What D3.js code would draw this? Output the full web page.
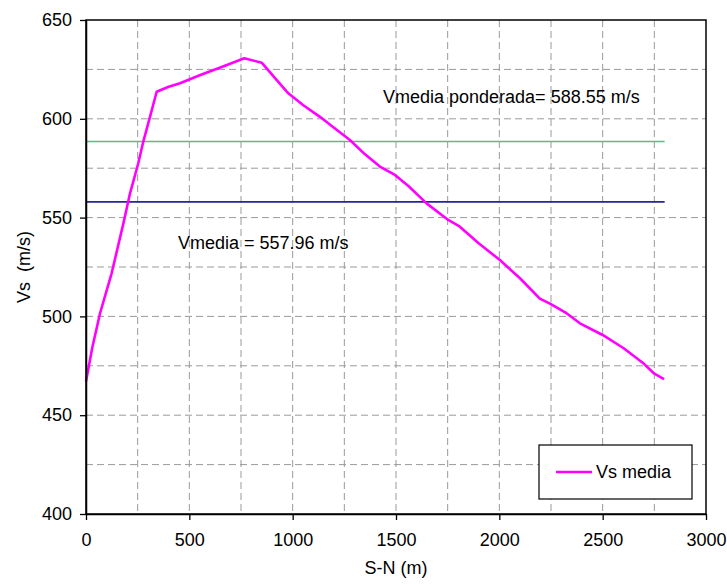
<!DOCTYPE html>
<html>
<head>
<meta charset="utf-8">
<script src="https://cdn.jsdelivr.net/npm/d3@7"></script>
<style>
  body { margin: 0; background: #fff; }
  svg { font-family: "Liberation Sans", Arial, sans-serif; }
</style>
</head>
<body>
<div id="chart"></div>
<script>
// distance along profile (m) and shear-wave velocity (m/s)
var distance = [0, 30, 68, 124, 181, 213, 253, 277, 310, 342, 400, 455, 550, 650, 766, 850, 920, 979, 1050, 1132, 1200, 1277, 1350, 1422, 1495, 1560, 1648, 1753, 1809, 1900, 2003, 2100, 2196, 2245, 2325, 2390, 2500, 2600, 2700, 2750, 2797];
var vs = [467.0, 484.0, 501.6, 521.8, 547.1, 562.3, 577.5, 588.4, 601.1, 613.7, 616.2, 618.0, 622.0, 626.0, 630.6, 628.4, 620.0, 612.9, 607.0, 601.0, 595.5, 589.3, 582.0, 575.8, 571.6, 566.0, 557.2, 548.8, 545.4, 537.0, 528.5, 519.3, 509.0, 506.5, 501.6, 496.5, 490.6, 484.0, 476.0, 471.0, 468.3];

var vMedia = 557.96,
    vPonderada = 588.55,
    lineEnd = 2800;

var xTicks = [0, 500, 1000, 1500, 2000, 2500, 3000];
var yTicks = [400, 450, 500, 550, 600, 650];

var margin = {top: 20, right: 21, bottom: 70, left: 86};
var width = 727 - margin.left - margin.right,
    height = 584 - margin.top - margin.bottom;

var svg = d3.select("#chart").append("svg")
    .attr("width", 727)
    .attr("height", 584)
  .append("g")
    .attr("transform", "translate(" + margin.left + "," + margin.top + ")");

var x = d3.scaleLinear().domain([0, 3000]).range([0, width]);
var y = d3.scaleLinear().domain([400, 650]).range([height, 0]);

// dashed grid every 250 m and 25 m/s
svg.append("g").selectAll("line")
    .data(d3.range(250, 3000, 250))
    .enter().append("line")
    .attr("x1", function(d) { return x(d); })
    .attr("x2", function(d) { return x(d); })
    .attr("y1", 0).attr("y2", height)
    .attr("stroke", "#9a9a9a")
    .attr("stroke-dasharray", "7,4");

svg.append("g").selectAll("line")
    .data(d3.range(425, 650, 25))
    .enter().append("line")
    .attr("y1", function(d) { return y(d); })
    .attr("y2", function(d) { return y(d); })
    .attr("x1", 0).attr("x2", width)
    .attr("stroke", "#9a9a9a")
    .attr("stroke-dasharray", "7,4");

// mean lines
svg.append("line")
    .attr("x1", x(0)).attr("x2", x(lineEnd))
    .attr("y1", y(vPonderada)).attr("y2", y(vPonderada))
    .attr("stroke", "#5dbb86").attr("stroke-width", 1.6);

svg.append("line")
    .attr("x1", x(0)).attr("x2", x(lineEnd))
    .attr("y1", y(vMedia)).attr("y2", y(vMedia))
    .attr("stroke", "#26269a").attr("stroke-width", 1.6);

// the velocity profile
var line = d3.line()
    .x(function(d, i) { return x(distance[i]); })
    .y(function(d) { return y(d); });

svg.append("path")
    .datum(vs)
    .attr("fill", "none")
    .attr("stroke", "#ff00ff")
    .attr("stroke-width", 2.6)
    .attr("stroke-linejoin", "round")
    .attr("d", line);

// frame
svg.append("rect")
    .attr("width", width).attr("height", height)
    .attr("fill", "none")
    .attr("stroke", "#000").attr("stroke-width", 1.5);

// axes
var xAxis = svg.append("g")
    .attr("transform", "translate(0," + height + ")")
    .call(d3.axisBottom(x).tickValues(xTicks).tickFormat(d3.format("d"))
        .tickSize(6).tickSizeOuter(0).tickPadding(13));
var yAxis = svg.append("g")
    .call(d3.axisLeft(y).tickValues(yTicks).tickFormat(d3.format("d"))
        .tickSize(6).tickSizeOuter(0).tickPadding(8));

[xAxis, yAxis].forEach(function(a) {
    a.select(".domain").attr("stroke", "#000").attr("stroke-width", 1.5);
    a.selectAll(".tick line").attr("stroke", "#000").attr("stroke-width", 1.3);
    a.selectAll(".tick text").attr("font-size", 18).attr("fill", "#000")
        .attr("font-family", "Liberation Sans, Arial, sans-serif");
});

// annotations
svg.append("text")
    .attr("x", 383 - margin.left)
    .attr("y", 103 - margin.top)
    .attr("font-size", 18)
    .text("Vmedia ponderada= " + vPonderada.toFixed(2) + " m/s");

svg.append("text")
    .attr("x", 178 - margin.left)
    .attr("y", 249 - margin.top)
    .attr("font-size", 18)
    .text("Vmedia = " + vMedia.toFixed(2) + " m/s");

// axis titles
svg.append("text")
    .attr("x", width / 2)
    .attr("y", height + 60)
    .attr("text-anchor", "middle")
    .attr("font-size", 18)
    .text("S-N (m)");

svg.append("text")
    .attr("transform", "translate(" + (30 - margin.left) + "," + (height / 2) + ") rotate(-90)")
    .attr("text-anchor", "middle")
    .attr("font-size", 18)
    .style("white-space", "pre")
    .text("Vs  (m/s)");

// legend
var legend = svg.append("g")
    .attr("transform", "translate(" + (539 - margin.left) + "," + (445 - margin.top) + ")");
legend.append("rect")
    .attr("width", 153).attr("height", 54)
    .attr("fill", "#fff").attr("stroke", "#000").attr("stroke-width", 1.2);
legend.append("line")
    .attr("x1", 17).attr("x2", 53).attr("y1", 27).attr("y2", 27)
    .attr("stroke", "#ff00ff").attr("stroke-width", 2.6);
legend.append("text")
    .attr("x", 57).attr("y", 33)
    .attr("font-size", 18)
    .text("Vs media");
</script>
</body>
</html>
